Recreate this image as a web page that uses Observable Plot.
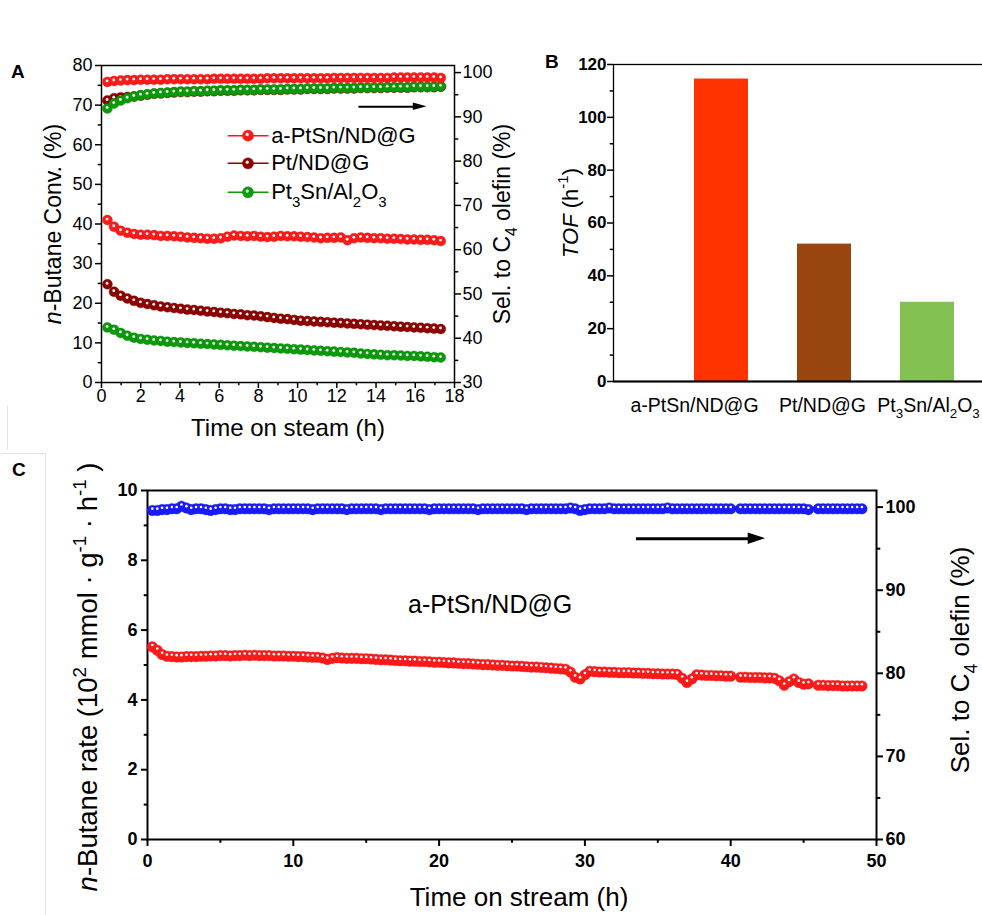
<!DOCTYPE html>
<html><head><meta charset="utf-8">
<script src="https://cdn.jsdelivr.net/npm/d3@7"></script>
<script src="https://cdn.jsdelivr.net/npm/@observablehq/plot@0.6"></script>
<style>
body{margin:0;background:#fff;overflow:hidden}
#root{position:relative;width:982px;height:915px;overflow:hidden;background:#fff;font-family:"Liberation Sans",Arial,Helvetica,sans-serif}
.letter{position:absolute;font-weight:bold;font-size:19px;line-height:1;color:#000}
.faint{position:absolute;background:#e4e4e4}
</style></head><body><div id="root"></div>
<script>
// ---------------- DATA ----------------
// Panel A: time on steam (h)
const tA = [0.3,0.64,0.98,1.32,1.66,2.0,2.34,2.68,3.02,3.36,
  3.7,4.04,4.38,4.72,5.06,5.4,5.74,6.08,6.42,6.76,
  7.1,7.44,7.78,8.12,8.46,8.8,9.14,9.48,9.82,10.16,
  10.5,10.84,11.18,11.52,11.86,12.2,12.54,12.88,13.22,13.56,
  13.9,14.24,14.58,14.92,15.26,15.6,15.94,16.28,16.62,16.96,17.3];
const seriesA = ["a-PtSn/ND@G", "Pt/ND@G", "Pt3Sn/Al2O3"];
const legendLabelsA = ["a-PtSn/ND@G", "Pt/ND@G", "Pt_{3}Sn/Al_{2}O_{3}"];
// n-Butane conversion (%)
const convPtSn = [41.0,39.3,38.3,37.8,37.5,37.3,37.3,37.2,37.0,37.0,
  36.9,36.8,36.6,36.5,36.4,36.3,36.3,36.4,36.8,37.1,
  37.0,36.9,37.0,36.8,36.7,36.8,37.0,36.9,36.9,36.8,
  36.7,36.6,36.4,36.5,36.5,36.6,35.9,36.4,36.6,36.5,
  36.4,36.4,36.3,36.3,36.2,36.1,36.1,36.0,36.0,35.9,35.7];
const convPt = [24.8,22.9,21.9,21.2,20.6,20.1,19.8,19.5,19.2,19.0,
  18.8,18.6,18.4,18.3,18.1,17.9,17.8,17.6,17.5,17.3,
  17.2,17.0,16.9,16.7,16.5,16.3,16.1,16.0,15.8,15.6,
  15.5,15.4,15.3,15.2,15.1,15.0,14.9,14.8,14.7,14.6,
  14.5,14.4,14.3,14.2,14.1,14.0,13.9,13.8,13.7,13.6,13.5];
const convPt3Sn = [13.9,13.3,12.5,11.8,11.3,11.0,10.8,10.6,10.5,10.3,
  10.2,10.1,10.0,9.9,9.8,9.7,9.6,9.5,9.4,9.3,
  9.2,9.1,9.0,8.9,8.8,8.7,8.6,8.5,8.4,8.3,
  8.2,8.1,8.0,7.9,7.8,7.7,7.6,7.5,7.3,7.2,
  7.1,7.0,6.9,6.9,6.8,6.7,6.7,6.6,6.5,6.4,6.3];
// Selectivity to C4 olefin (%)
const selPtSn = [97.9,98.1,98.2,98.3,98.3,98.4,98.4,98.4,98.4,98.5,
  98.5,98.5,98.5,98.5,98.5,98.5,98.6,98.6,98.6,98.6,
  98.6,98.6,98.6,98.6,98.7,98.7,98.7,98.7,98.7,98.7,
  98.7,98.7,98.7,98.7,98.8,98.8,98.8,98.8,98.8,98.8,
  98.8,98.8,98.8,98.9,98.9,98.9,98.9,98.9,98.9,98.9,98.8];
const selPt = [93.7,94.2,94.4,94.5,94.6,94.8,95.0,95.2,95.3,95.4,
  95.5,95.6,95.6,95.7,95.7,95.8,95.8,95.9,95.9,95.9,
  96.0,96.0,96.0,96.1,96.1,96.1,96.1,96.2,96.2,96.2,
  96.3,96.3,96.3,96.3,96.4,96.4,96.4,96.4,96.5,96.5,
  96.5,96.5,96.6,96.6,96.6,96.6,96.7,96.7,96.7,96.7,96.8];
const selPt3Sn = [91.9,93.0,93.7,94.2,94.6,94.9,95.1,95.3,95.4,95.5,
  95.6,95.7,95.7,95.8,95.8,95.9,95.9,96.0,96.0,96.0,
  96.1,96.1,96.1,96.2,96.2,96.2,96.2,96.3,96.3,96.3,
  96.4,96.4,96.4,96.4,96.5,96.5,96.5,96.5,96.6,96.6,
  96.6,96.6,96.7,96.7,96.7,96.7,96.8,96.8,96.8,96.8,96.9];
const xTicksA = [0,2,4,6,8,10,12,14,16,18];
const xMinorA = [1,3,5,7,9,11,13,15,17];
const yTicksA = [0,10,20,30,40,50,60,70,80];
const yMinorA = [5,15,25,35,45,55,65,75];
const y2TicksA = [30,40,50,60,70,80,90,100];
const y2MinorA = [35,45,55,65,75,85,95];

// Panel B: TOF (h-1)
const catsB = ["a-PtSn/ND@G", "Pt/ND@G", "Pt3Sn/Al2O3"];
const catLabelsB = ["a-PtSn/ND@G", "Pt/ND@G", "Pt_{3}Sn/Al_{2}O_{3}"];
const tofB = [114.5, 52, 30];
const yTicksB = [0,20,40,60,80,100,120];
const yMinorB = [10,30,50,70,90,110];

// Panel C: time on stream (h)
const tC = [0.33,0.67,
  1,1.33,1.67, 2,2.33,2.67, 3,3.33,3.67, 4,4.33,4.67, 5,5.33,5.67,
  6,6.33,6.67, 7,7.33,7.67, 8,8.33,8.67, 9,9.33,9.67, 10,10.33,10.67,
  11,11.33,11.67, 12,12.33,12.67, 13,13.33,13.67, 14,14.33,14.67, 15,15.33,15.67,
  16,16.33,16.67, 17,17.33,17.67, 18,18.33,18.67, 19,19.33,19.67, 20,20.33,20.67,
  21,21.33,21.67, 22,22.33,22.67, 23,23.33,23.67, 24,24.33,24.67, 25,25.33,25.67,
  26,26.33,26.67, 27,27.33,27.67, 28,28.33,28.67, 29,29.33,29.67, 30,30.33,30.67,
  31,31.33,31.67, 32,32.33,32.67, 33,33.33,33.67, 34,34.33,34.67, 35,35.33,35.67,
  36,36.33,36.67, 37,37.33,37.67, 38,38.33,38.67, 39,39.33,39.67, 40,40.67,
  41,41.33,41.67, 42,42.33,42.67, 43,43.33,43.67, 44,44.33,44.67, 45,45.33,
  46,46.33,46.67, 47,47.33,47.67, 48,48.33,48.67, 49];
// n-Butane rate (10^2 mmol g-1 h-1)
const rateC = [5.52,5.42,
  5.30,5.25,5.24, 5.23,5.23,5.24, 5.24,5.24,5.25, 5.25,5.26,5.26, 5.27,5.27,5.26,
  5.27,5.27,5.28, 5.27,5.28,5.27, 5.27,5.27,5.26, 5.26,5.26,5.25, 5.25,5.24,5.24,
  5.23,5.22,5.22, 5.20,5.16,5.19, 5.21,5.20,5.19, 5.19,5.19,5.18, 5.18,5.17,5.16,
  5.15,5.15,5.14, 5.13,5.12,5.12, 5.11,5.11,5.10, 5.10,5.09,5.08, 5.08,5.07,5.06,
  5.06,5.05,5.04, 5.04,5.03,5.02, 5.01,5.01,5.00, 4.99,4.99,4.98, 4.97,4.97,4.96,
  4.95,4.94,4.94, 4.93,4.92,4.91, 4.90,4.89,4.88, 4.80,4.65,4.60, 4.72,4.82,4.81,
  4.80,4.80,4.79, 4.79,4.78,4.78, 4.78,4.77,4.77, 4.76,4.76,4.75, 4.75,4.74,4.74,
  4.74,4.73,4.62, 4.50,4.60,4.72, 4.71,4.70,4.70, 4.69,4.69,4.68, 4.68,4.65,
  4.65,4.64,4.64, 4.64,4.63,4.63, 4.62,4.55,4.42, 4.52,4.60,4.50, 4.45,4.46,
  4.42,4.42,4.41, 4.41,4.41,4.40, 4.40,4.40,4.40, 4.40];
// Selectivity to C4 olefin (%)
const selC = [99.6,99.6,
  99.7,99.7,99.8, 99.8,100.1,99.9, 99.7,99.8,99.8, 99.7,99.6,99.7, 99.8,99.8,99.7,
  99.7,99.8,99.8, 99.8,99.8,99.8, 99.8,99.7,99.8, 99.8,99.8,99.8, 99.8,99.8,99.8,
  99.8,99.7,99.8, 99.8,99.8,99.8, 99.8,99.8,99.7, 99.8,99.8,99.8, 99.8,99.8,99.8,
  99.7,99.8,99.8, 99.8,99.8,99.8, 99.8,99.8,99.8, 99.8,99.7,99.8, 99.8,99.8,99.8,
  99.8,99.8,99.8, 99.8,99.8,99.7, 99.8,99.8,99.8, 99.8,99.8,99.8, 99.8,99.8,99.8,
  99.7,99.8,99.8, 99.8,99.8,99.8, 99.8,99.8,99.8, 99.9,99.8,99.6, 99.7,99.8,99.8,
  99.8,99.8,99.9, 99.8,99.8,99.8, 99.8,99.8,99.8, 99.8,99.8,99.8, 99.8,99.8,99.9,
  99.8,99.8,99.8, 99.8,99.8,99.8, 99.8,99.8,99.8, 99.8,99.8,99.8, 99.8,99.8,
  99.8,99.8,99.8, 99.8,99.8,99.8, 99.8,99.8,99.8, 99.8,99.8,99.8, 99.8,99.7,
  99.8,99.8,99.8, 99.8,99.8,99.8, 99.8,99.8,99.8, 99.8];
const xTicksC = [0,10,20,30,40,50];
const xMinorC = [5,15,25,35,45];
const yTicksC = [0,2,4,6,8,10];
const yMinorC = [1,3,5,7,9];
const y2TicksC = [60,70,80,90,100];
const y2MinorC = [65,75,85,95];

// ---------------- STYLE / LAYOUT ----------------
const FONT = '"Liberation Sans", Arial, Helvetica, sans-serif';
const colorsA = ["#ff1a1a", "#8e0000", "#0a9a0a"];
const colorsB = ["#ff3300", "#984510", "#83c153"];
const colRateC = "#ff1a1a", colSelC = "#1a1aff";
const baseStyle = {background: "none", overflow: "visible", fontFamily: FONT, color: "black"};

const rows = (t, v) => t.map((x, i) => ({t: x, v: v[i]}));

// marker = coloured ball + small white highlight
function seriesMarks(data, color, m) {
  return [
    Plot.line(data, {x: "t", y: "v", stroke: color, strokeWidth: 1}),
    Plot.dot(data, {x: "t", y: "v", r: m.r, fill: color, stroke: d3.color(color).darker(0.4).formatHex(), strokeWidth: 0.4}),
    Plot.dot(data, {x: "t", y: "v", r: m.hr, fill: "white", dx: m.hx, dy: m.hy})
  ];
}
const markA = {r: 5, hr: 1.4, hx: -0.3, hy: -1};
const markC = {r: 5.3, hr: 1.3, hx: 0, hy: -1.8};

function arrowMarks(a) {
  return [
    Plot.link([a], {x1: "x1", x2: "xHead", y1: "y", y2: "y", stroke: "black", strokeWidth: a.w}),
    Plot.areaY([{x: a.xHead, y1: a.y - a.h, y2: a.y + a.h}, {x: a.xTip, y1: a.y, y2: a.y}],
      {x: "x", y1: "y1", y2: "y2", fill: "black"})
  ];
}
function axisPair(dir, major, minor, o) {
  const A = dir === "x" ? Plot.axisX : Plot.axisY;
  return [
    A({ticks: major, label: null, strokeWidth: o.sw, tickSize: o.size, tickPadding: o.pad,
       fontSize: o.fs, fontWeight: o.fw || "normal", anchor: o.anchor, tickFormat: d => String(d)}),
    A({ticks: minor, label: null, strokeWidth: o.sw, tickSize: o.size * 0.55, anchor: o.anchor, tickFormat: () => ""})
  ];
}
// centred axis-title text placed relative to the frame
function title(str, o) {
  return Plot.text([str], {text: d => d, textAnchor: "middle", lineAnchor: "middle", ...o});
}

// annotation layout (in data units)
const legendA = {x1: 6.43, x2: 8.52, xDot: 7.47, xText: 8.65, ys: [62.3, 55.3, 48.0]};
const arrowA = {x1: 13.1, xHead: 15.9, xTip: 16.6, y: 92.3, h: 0.85, w: 2};
const arrowC = {x1: 33.5, xHead: 41.2, xTip: 42.4, y: 96.2, h: 0.7, w: 3};
const annotC = {x: 23.5, y: 6.72, text: "a-PtSn/ND@G"};

const root = document.getElementById("root");
function place(svg, left, top) {
  svg.style.position = "absolute"; svg.style.left = left + "px"; svg.style.top = top + "px";
  root.appendChild(svg); return svg;
}

// ---------------- PANEL A ----------------
const dimA = {width: 490, height: 450, marginLeft: 101, marginRight: 36, marginTop: 65, marginBottom: 68};
const convSeries = [convPtSn, convPt, convPt3Sn];
const selSeries = [selPtSn, selPt, selPt3Sn];

const legendMarks = [];
seriesA.forEach((name, i) => {
  const y = legendA.ys[i], c = colorsA[i];
  legendMarks.push(
    Plot.link([0], {x1: legendA.x1, x2: legendA.x2, y1: y, y2: y, stroke: c, strokeWidth: 1.5}),
    Plot.dot([0], {x: legendA.xDot, y, r: 5.6, fill: c, stroke: d3.color(c).darker(0.4).formatHex(), strokeWidth: 0.4}),
    Plot.dot([0], {x: legendA.xDot, y, r: 1.6, fill: "white", dx: -0.8, dy: -1.2}),
    Plot.text([legendLabelsA[i]], {x: legendA.xText, y, text: d => d, textAnchor: "start", fontSize: 22})
  );
});

const plotAL = Plot.plot({
  ...dimA, style: baseStyle,
  x: {domain: [0, 18]}, y: {domain: [0, 80]},
  marks: [
    ...axisPair("x", xTicksA, xMinorA, {sw: 1.5, size: 6, pad: 1, fs: 18}),
    ...axisPair("y", yTicksA, yMinorA, {sw: 1.5, size: 6, pad: 3, fs: 18, anchor: "left"}),
    Plot.frame({stroke: "black", strokeWidth: 1.5}),
    ...convSeries.flatMap((v, i) => seriesMarks(rows(tA, v), colorsA[i], markA)),
    ...legendMarks,
    title("Time on steam (h)", {frameAnchor: "bottom", dx: 10, dy: 46, fontSize: 24}),
    title("*n*-Butane Conv. (%)", {frameAnchor: "left", rotate: -90, dx: -48, fontSize: 23})
  ]
});
place(plotAL, 0, 0);

const plotAR = Plot.plot({
  ...dimA, style: baseStyle,
  x: {domain: [0, 18], axis: null}, y: {domain: [30, 101.6]},
  marks: [
    ...axisPair("y", y2TicksA, y2MinorA, {sw: 1.5, size: 6, pad: 2, fs: 18, anchor: "right"}),
    ...[1, 2, 0].flatMap(i => seriesMarks(rows(tA, selSeries[i]), colorsA[i], markA)),
    ...arrowMarks(arrowA),
    title("Sel. to C_{4} olefin (%)", {frameAnchor: "right", rotate: -90, dx: 48, fontSize: 23})
  ]
});
place(plotAR, 0, 0);

// ---------------- PANEL B ----------------
const labelDxB = [-27, -2, 1];
const plotB = Plot.plot({
  width: 495, height: 440, marginLeft: 123, marginRight: 1, marginTop: 64, marginBottom: 59,
  style: baseStyle,
  x: {domain: catsB, paddingInner: 0.48, paddingOuter: 0.53, align: 0.73, axis: null},
  y: {domain: [0, 120]},
  marks: [
    Plot.barY(catsB.map((c, i) => ({cat: c, tof: tofB[i]})), {x: "cat", y: "tof", fill: d => colorsB[catsB.indexOf(d.cat)]}),
    Plot.frame({stroke: "black", strokeWidth: 1.3}),
    Plot.ruleY([0], {stroke: "black", strokeWidth: 2.2}),
    ...axisPair("y", yTicksB, yMinorB, {sw: 1.5, size: 6, pad: 1, fs: 17, fw: "bold", anchor: "left"}),
    ...catsB.map((c, i) => Plot.text([c], {x: d => d, frameAnchor: "bottom", lineAnchor: "middle", textAnchor: "middle", dy: 24, dx: labelDxB[i], fontSize: 19.5, text: () => catLabelsB[i]})),
    title("*TOF* (h^{-1})", {frameAnchor: "left", rotate: -90, dx: -43, dy: -10, fontSize: 22})
  ]
});
place(plotB, 490, 0);

// ---------------- PANEL C ----------------
const dimC = {width: 982, height: 465, marginLeft: 147, marginRight: 106, marginTop: 40, marginBottom: 76};
const plotCL = Plot.plot({
  ...dimC, style: baseStyle,
  x: {domain: [0, 50]}, y: {domain: [0, 10]},
  marks: [
    ...axisPair("x", xTicksC, xMinorC, {sw: 2, size: 7, pad: 8, fs: 18, fw: "bold"}),
    ...axisPair("y", yTicksC, yMinorC, {sw: 2, size: 6, pad: 4, fs: 18, fw: "bold", anchor: "left"}),
    Plot.frame({stroke: "black", strokeWidth: 2}),
    ...seriesMarks(rows(tC, rateC), colRateC, markC),
    Plot.text([annotC], {x: "x", y: "y", text: "text", fontSize: 25}),
    title("Time on stream (h)", {frameAnchor: "bottom", dx: 7, dy: 58, fontSize: 26}),
    title("*n*-Butane rate (10^{2} mmol · g^{-1} · h^{-1} )", {frameAnchor: "left", rotate: -90, dx: -59, dy: 12, fontSize: 27.5})
  ]
});
place(plotCL, 0, 450);

const plotCR = Plot.plot({
  ...dimC, style: baseStyle,
  x: {domain: [0, 50], axis: null}, y: {domain: [60, 102]},
  marks: [
    ...axisPair("y", y2TicksC, y2MinorC, {sw: 2, size: 6, pad: 3, fs: 18, fw: "bold", anchor: "right"}),
    ...seriesMarks(rows(tC, selC), colSelC, markC),
    ...arrowMarks(arrowC),
    title("Sel. to C_{4} olefin (%)", {frameAnchor: "right", rotate: -90, dx: 84, dy: -5, fontSize: 26})
  ]
});
place(plotCR, 0, 450);

// ---------------- rich text (sub/superscripts, italics) ----------------
const NS = "http://www.w3.org/2000/svg";
function richify(svg) {
  svg.querySelectorAll("text").forEach(el => {
    const s = el.textContent;
    if (!/[_^]\{|\*/.test(s)) return;
    const fs = parseFloat(getComputedStyle(el).fontSize) || 16;
    const tokens = s.split(/(_\{[^}]*\}|\^\{[^}]*\}|\*[^*]+\*)/).filter(x => x !== "");
    while (el.firstChild) el.removeChild(el.firstChild);
    let shift = 0;
    for (const tok of tokens) {
      const ts = document.createElementNS(NS, "tspan");
      let target = 0, txt = tok, small = false, ital = false;
      if (tok.startsWith("_{")) { target = 0.33 * fs; txt = tok.slice(2, -1); small = true; }
      else if (tok.startsWith("^{")) { target = -0.42 * fs; txt = tok.slice(2, -1); small = true; }
      else if (tok.startsWith("*")) { txt = tok.slice(1, -1); ital = true; }
      const d = target - shift;
      if (d) ts.setAttribute("dy", d.toFixed(2));
      shift = target;
      if (small) ts.setAttribute("font-size", (0.68 * fs).toFixed(1));
      if (ital) ts.setAttribute("font-style", "italic");
      ts.textContent = txt;
      el.appendChild(ts);
    }
    el.setAttribute("xml:space", "preserve");
    el.style.whiteSpace = "pre";
  });
}
[plotAL, plotAR, plotB, plotCL, plotCR].forEach(richify);

// ---------------- panel letters & faint borders ----------------
[["A", 11, 62], ["B", 545, 52], ["C", 12, 460]].forEach(([t, x, y]) => {
  const d = document.createElement("div");
  d.className = "letter"; d.textContent = t; d.style.left = x + "px"; d.style.top = y + "px";
  root.appendChild(d);
});
[[45, 453, 1, 462], [0, 453, 45, 1], [7, 405, 1, 45]].forEach(([x, y, w, h]) => {
  const d = document.createElement("div");
  d.className = "faint";
  Object.assign(d.style, {left: x + "px", top: y + "px", width: w + "px", height: h + "px"});
  root.appendChild(d);
});
</script></body></html>
